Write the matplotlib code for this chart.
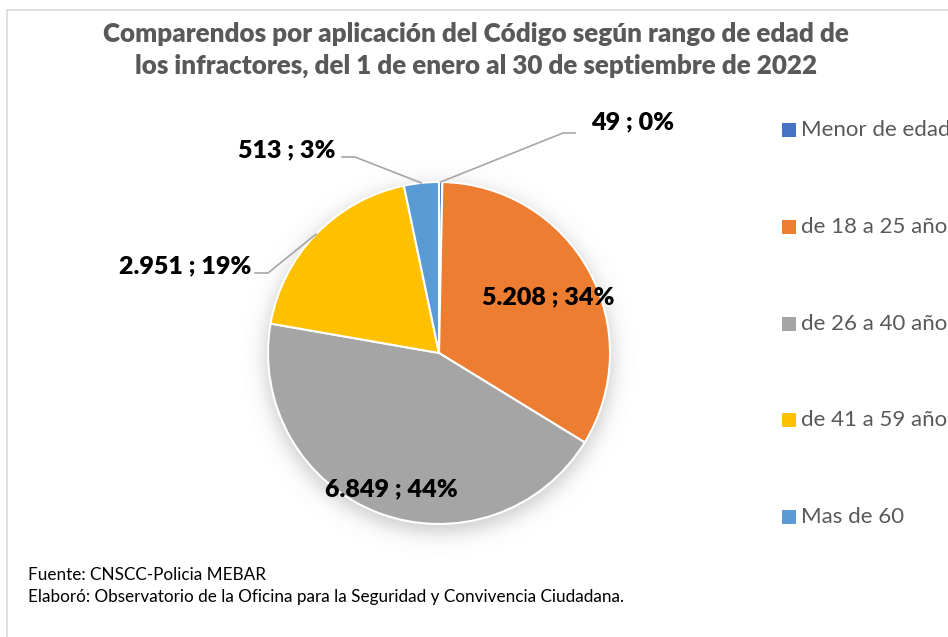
import numpy as np
import matplotlib
matplotlib.use("Agg")
import matplotlib.pyplot as plt
from matplotlib.patches import Rectangle

plt.rcParams["font.family"] = ["Lato", "DejaVu Sans"]

# ---- datos ----
categorias = ["Menor de edad", "de 18 a 25 años", "de 26 a 40 años",
              "de 41 a 59 años", "Mas de 60"]
valores = [49, 5208, 6849, 2951, 513]
porcentajes = ["0%", "34%", "44%", "19%", "3%"]
colores = ["#4472C4", "#ED7D31", "#A5A5A5", "#FFC000", "#5B9BD5"]

titulo = ("Comparendos por aplicación del Código según rango de edad de\n"
          "los infractores, del 1 de enero al 30 de septiembre de 2022")
fuente = "Fuente: CNSCC-Policia MEBAR"
elaboro = "Elaboró: Observatorio de la Oficina para la Seguridad y Convivencia Ciudadana."

W, H = 948, 637
GRIS = "#595959"
cx, cy, R = 439, H - 353, 171


def Y(py):
    return H - py


fig = plt.figure(figsize=(W / 100, H / 100), dpi=100)
ax = fig.add_axes([0, 0, 1, 1])

# sombra difusa del pastel
xs = np.arange(0, W) + 0.5
ys = np.arange(0, H) + 0.5
gx, gy = np.meshgrid(xs, ys)
d = np.hypot(gx - cx, gy - (cy - 6))
alpha = 0.34 * 0.5 * (1 - np.tanh((d - R - 3) / 11.0))
sombra = np.zeros((H, W, 4))
sombra[..., :3] = 0.45
sombra[..., 3] = alpha
ax.imshow(sombra, extent=(0, W, 0, H), origin="lower", zorder=0, interpolation="bilinear")

wedges, _ = ax.pie(valores, colors=colores, startangle=90, counterclock=False,
                   center=(cx, cy), radius=R,
                   wedgeprops=dict(edgecolor="white", linewidth=1.5, zorder=2))
ax.set_xlim(0, W)
ax.set_ylim(0, H)
ax.set_aspect("equal")
ax.axis("off")

# etiquetas de datos
pos_etq = [(591, 122, "left"), (548, 297, "center"), (391, 489, "center"),
           (251, 266, "right"), (336, 150, "right")]
guias = {0: [(563, 133), (575, 133)], 3: [(268, 273), (255, 273)],
         4: [(355, 157), (342, 157)]}
for i, (w, v, p) in enumerate(zip(wedges, valores, porcentajes)):
    txt = f"{v:,}".replace(",", ".") + " ; " + p
    x, y, ha = pos_etq[i]
    ax.text(x, Y(y), txt, ha=ha, va="center", fontsize=18, fontweight="heavy",
            color="black", zorder=5)
    if i in guias:
        th = np.deg2rad((w.theta1 + w.theta2) / 2)
        px, py = cx + R * np.cos(th), cy + R * np.sin(th)
        pts = [(px, py)] + [(a, Y(b)) for a, b in guias[i]]
        ax.plot([q[0] for q in pts], [q[1] for q in pts], color="#A6A6A6",
                lw=1.2, zorder=4)

# leyenda (recortada por el borde derecho, como en el original)
for i, (c, lab) in enumerate(zip(colores, categorias)):
    yy = Y(130 + i * 96.8)
    ax.add_patch(Rectangle((782, yy - 7), 14, 14, facecolor=c, edgecolor="none", zorder=3))
    ax.text(801, yy, lab, ha="left", va="center", fontsize=16, color=GRIS)

# título
ax.text(476, Y(50), titulo, ha="center", va="center", fontsize=18.7,
        fontweight="heavy", color=GRIS, linespacing=1.42)

# notas
ax.text(28, Y(575), fuente, ha="left", va="center", fontsize=12.3, color="black")
ax.text(28, Y(597), elaboro, ha="left", va="center", fontsize=12.3, color="black")

# marco
marco = Rectangle((7, -10), W, Y(10) + 10, fill=False, edgecolor="#D9D9D9", lw=1.2)
ax.add_patch(marco)

fig.savefig("out.png", dpi=100, facecolor="white")
